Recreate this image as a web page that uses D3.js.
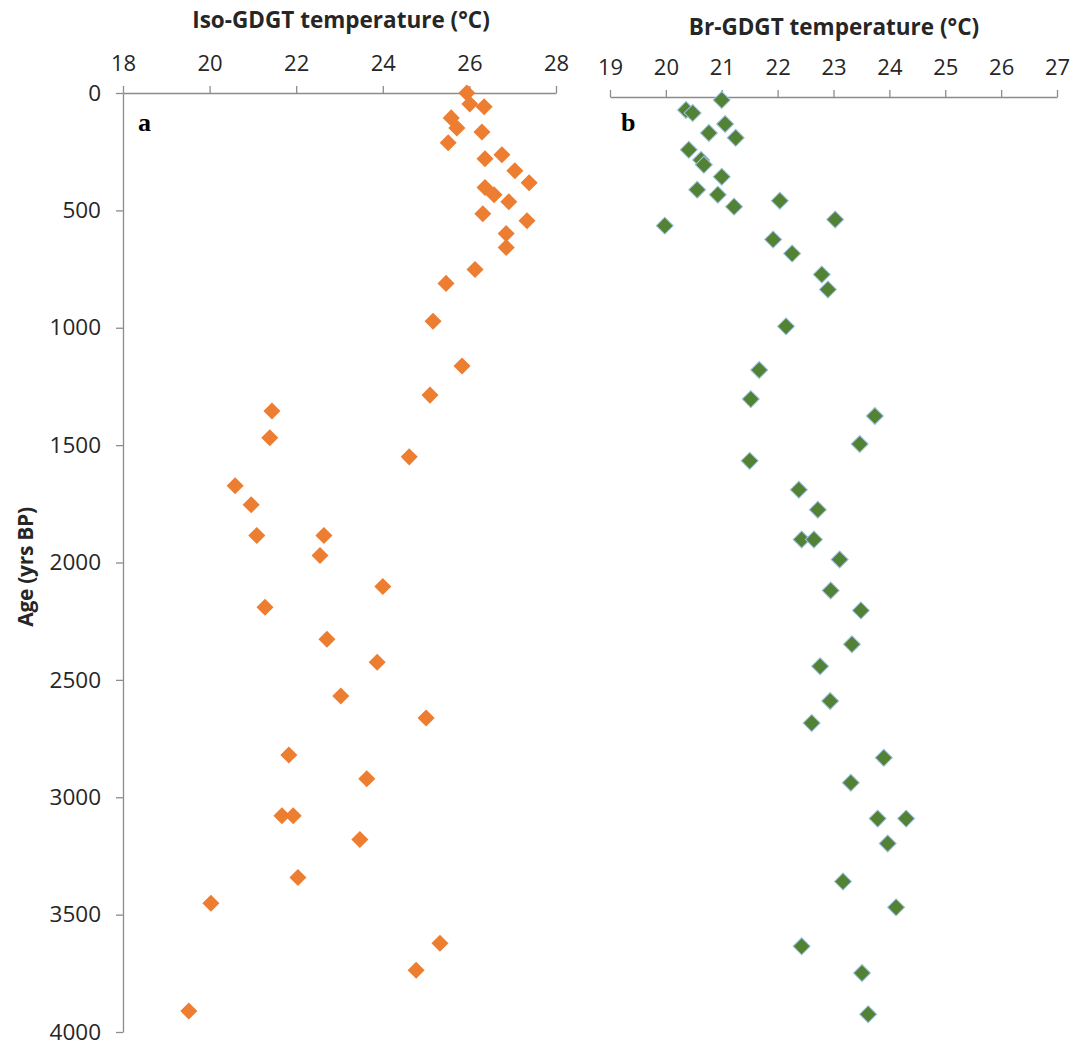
<!DOCTYPE html>
<html>
<head>
<meta charset="utf-8">
<script src="https://cdn.jsdelivr.net/npm/d3@7"></script>
<style>
  html, body { margin: 0; padding: 0; background: #fff; }
  svg { display: block; }
</style>
</head>
<body>
<svg id="chart" width="1079" height="1046"></svg>
<script>
// ---- Data ----
const isoTicks = [18, 20, 22, 24, 26, 28];
const brTicks = [19, 20, 21, 22, 23, 24, 25, 26, 27];
const ageTicks = [0, 500, 1000, 1500, 2000, 2500, 3000, 3500, 4000];

const isoAge = [0, 47, 59, 106, 149, 166, 212, 263, 280, 331, 382, 403, 433, 463, 514, 544, 599, 658, 752, 811,
  972, 1163, 1287, 1355, 1469, 1550, 1673, 1754, 1885, 1885, 1970, 2102, 2191, 2327, 2425, 2569, 2662, 2820,
  2921, 3079, 3079, 3180, 3342, 3452, 3622, 3737, 3911];
const isoTemp = [25.94, 26.01, 26.34, 25.58, 25.71, 26.29, 25.51, 26.75, 26.36, 27.05, 27.38, 26.36, 26.57, 26.91,
  26.31, 27.33, 26.85, 26.85, 26.13, 25.46, 25.16, 25.83, 25.09, 21.44, 21.39, 24.61, 20.59, 20.96, 21.09, 22.64,
  22.55, 24.00, 21.28, 22.71, 23.87, 23.03, 25.00, 21.83, 23.63, 21.67, 21.93, 23.47, 22.04, 20.03, 25.32, 24.77, 19.52];

const brAge = [13, 55, 68, 115, 153, 174, 225, 268, 289, 340, 395, 416, 442, 467, 522, 548, 607, 667, 756, 820,
  977, 1163, 1287, 1359, 1478, 1550, 1673, 1758, 1885, 1885, 1970, 2102, 2187, 2331, 2425, 2573, 2667, 2815,
  2921, 3074, 3074, 3180, 3342, 3452, 3618, 3732, 3907];
const brTemp = [21.00, 20.36, 20.48, 21.06, 20.77, 21.25, 20.41, 20.63, 20.68, 21.00, 20.56, 20.93, 22.04, 21.22,
  23.03, 19.98, 21.92, 22.26, 22.79, 22.90, 22.15, 21.67, 21.52, 23.74, 23.47, 21.50, 22.38, 22.72, 22.43, 22.65,
  23.11, 22.95, 23.49, 23.33, 22.76, 22.94, 22.61, 23.90, 23.31, 23.79, 24.30, 23.97, 23.17, 24.12, 22.43, 23.51, 23.62];

// ---- Layout ----
const svg = d3.select("#chart");
const axisColor = "#8c8c8c";
const textColor = "#262626";

const xA = d3.scaleLinear().domain([18, 28]).range([123, 556]);
const yA = d3.scaleLinear().domain([0, 4000]).range([93, 1032]);
const xB = d3.scaleLinear().domain([19, 27]).range([610, 1057]);
const yB = d3.scaleLinear().domain([0, 4000]).range([97, 1036]);

function styleAxis(g, size) {
  g.select(".domain").attr("stroke", axisColor).attr("stroke-width", 1.3);
  g.selectAll(".tick line").attr("stroke", axisColor).attr("stroke-width", 1.3);
  g.selectAll(".tick text")
    .attr("fill", textColor)
    .style("font-family", "'Open Sans', sans-serif")
    .style("font-size", size + "px");
}

// Panel a top axis
svg.append("g")
  .attr("transform", `translate(0,${yA(0)})`)
  .call(d3.axisTop(xA).tickValues(isoTicks).tickFormat(d3.format("d")).tickSize(7).tickSizeOuter(0).tickPadding(15))
  .call(g => styleAxis(g, 22));

// Panel a left axis
svg.append("g")
  .attr("transform", `translate(${xA(18)},0)`)
  .call(d3.axisLeft(yA).tickValues(ageTicks).tickFormat(d3.format("d")).tickSize(7).tickSizeOuter(0).tickPadding(15))
  .call(g => styleAxis(g, 22.5));

// Panel b top axis
svg.append("g")
  .attr("transform", `translate(0,${yB(0)})`)
  .call(d3.axisTop(xB).tickValues(brTicks).tickFormat(d3.format("d")).tickSize(7).tickSizeOuter(0).tickPadding(15))
  .call(g => styleAxis(g, 22));

// Titles
svg.append("text")
  .attr("x", 341).attr("y", 28)
  .attr("text-anchor", "middle")
  .attr("fill", textColor)
  .style("font-family", "'Open Sans', sans-serif")
  .style("font-weight", "bold")
  .style("font-size", "22.5px")
  .text("Iso-GDGT temperature (°C)");

svg.append("text")
  .attr("x", 834).attr("y", 35)
  .attr("text-anchor", "middle")
  .attr("fill", textColor)
  .style("font-family", "'Open Sans', sans-serif")
  .style("font-weight", "bold")
  .style("font-size", "22.5px")
  .text("Br-GDGT temperature (°C)");

svg.append("text")
  .attr("transform", "translate(33,567) rotate(-90)")
  .attr("text-anchor", "middle")
  .attr("fill", textColor)
  .style("font-family", "'Open Sans', sans-serif")
  .style("font-weight", "bold")
  .style("font-size", "21px")
  .style("letter-spacing", "-0.3px")
  .text("Age (yrs BP)");

// Panel letters
svg.append("text")
  .attr("x", 138).attr("y", 131)
  .attr("fill", "#000")
  .style("font-family", "'Liberation Serif', serif")
  .style("font-weight", "bold")
  .style("font-size", "26px")
  .text("a");
svg.append("text")
  .attr("x", 621).attr("y", 131)
  .attr("fill", "#000")
  .style("font-family", "'Liberation Serif', serif")
  .style("font-weight", "bold")
  .style("font-size", "26px")
  .text("b");

// Markers
const diamond = d3.symbol().type(d3.symbolSquare).size(145)();

svg.append("g").selectAll("path")
  .data(isoTemp.map((t, i) => ({ t, a: isoAge[i] })))
  .join("path")
  .attr("d", diamond)
  .attr("transform", d => `translate(${xA(d.t)},${yA(d.a)}) rotate(45)`)
  .attr("fill", "#ED7D31");

svg.append("g").selectAll("path")
  .data(brTemp.map((t, i) => ({ t, a: brAge[i] })))
  .join("path")
  .attr("d", diamond)
  .attr("transform", d => `translate(${xB(d.t)},${yB(d.a)}) rotate(45)`)
  .attr("fill", "#548235")
  .attr("stroke", "#9DC3E6")
  .attr("stroke-width", 1);
</script>
</body>
</html>
